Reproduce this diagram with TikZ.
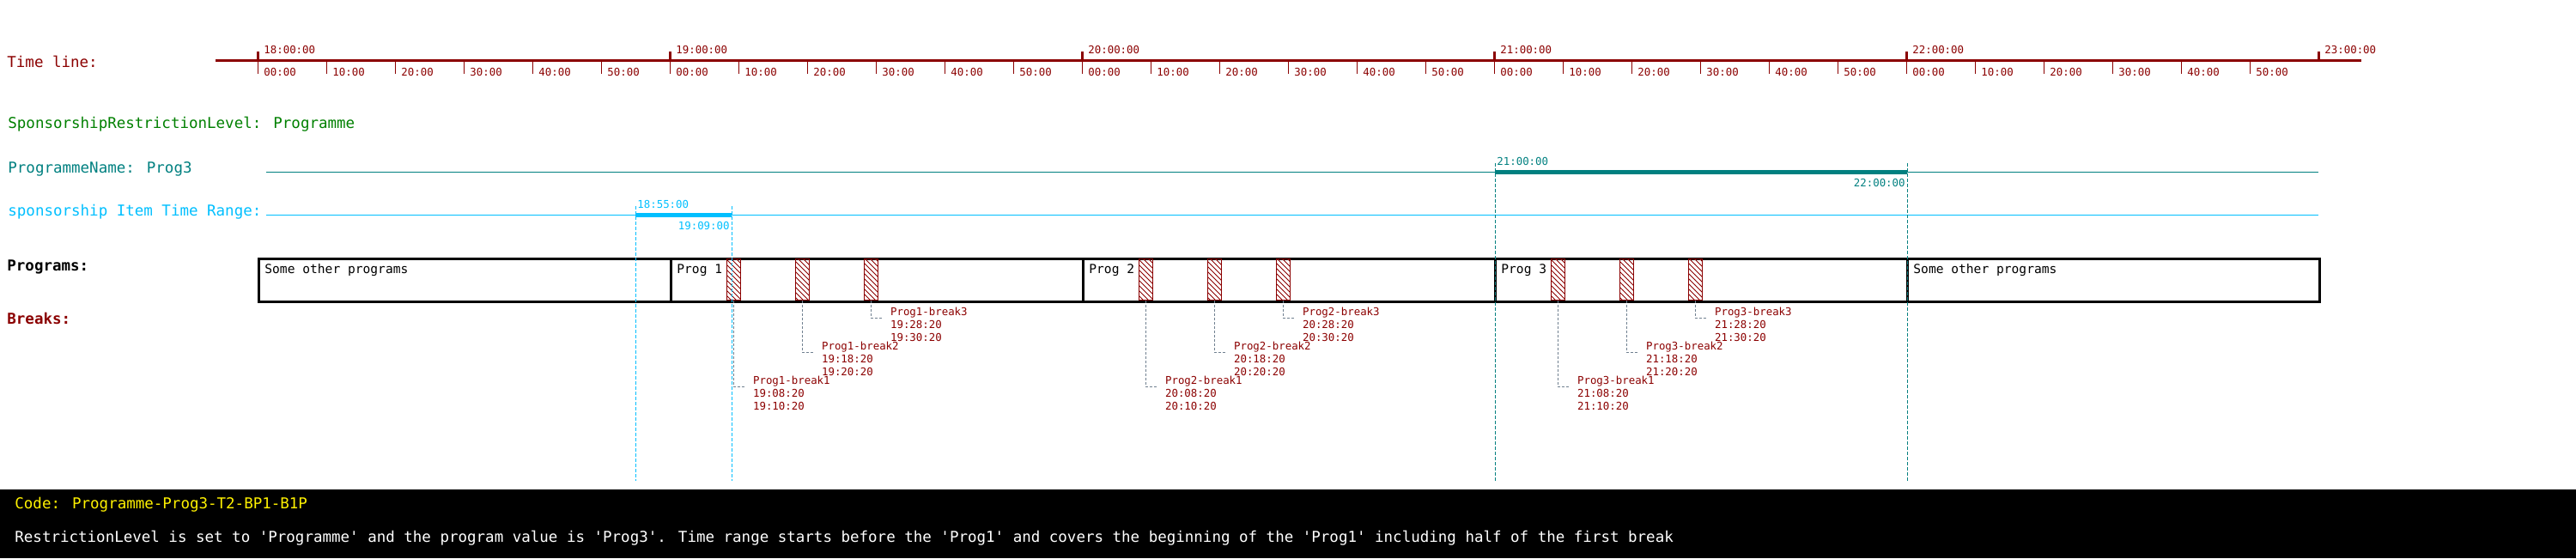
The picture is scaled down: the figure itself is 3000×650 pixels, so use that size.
\documentclass[tikz,border=0pt]{standalone}
\usepackage{fontspec}
\usetikzlibrary{patterns}
\newfontfamily\monofont{DejaVu Sans Mono}
\definecolor{tlred}{HTML}{8B0000}
\definecolor{lvlgreen}{HTML}{008000}
\definecolor{pnteal}{HTML}{008080}
\definecolor{rngblue}{HTML}{00BFFF}
\definecolor{callgray}{HTML}{708090}
\tikzset{
  txt/.style={font=\monofont\fontsize{8.75}{10.5}\selectfont, anchor=west, inner sep=0pt},
  headtxt/.style={txt, font=\monofont\bfseries\fontsize{8.75}{10.5}\selectfont},
  smalltxt/.style={font=\monofont\fontsize{6.2}{7.5}\selectfont, inner sep=0pt},
  boxtxt/.style={font=\monofont\fontsize{7.3}{9}\selectfont, anchor=west, inner sep=0pt},
  progbox/.style={draw, line width=1.5pt, minimum width=240pt, minimum height=25pt, anchor=north west, inner sep=0pt},
  brk/.style={draw=tlred, line width=0.5pt, pattern=north west lines, pattern color=tlred,
    minimum width=8pt, minimum height=24pt, inner sep=0pt},
  callout/.style={callgray, line width=0.5pt, dash pattern=on 1.5pt off 1pt},
  guide/.style={line width=0.5pt, dash pattern=on 2pt off 1pt},
  brklbl/.style={smalltxt, text=tlred, align=left, anchor=north west},
}
\begin{document}
\begin{tikzpicture}[x=0.5pt, y=-0.5pt]
  \useasboundingbox (0,0) rectangle (3000,650);
  \node[txt, text=tlred] (tl) at (8,72) {Time line:};
  \draw[tlred, line width=1.5pt] (251,70.5) -- (2750,70.5);
  \foreach \h [count=\i from 0] in {18,...,22} {
    \draw[tlred, line width=1.5pt] ({300+480*\i},60) -- ({300+480*\i},71);
    \node[smalltxt, text=tlred, anchor=west] (hr\h) at ({307+480*\i},57.5) {\h:00:00};
    \foreach \m in {0,...,5} {
      \draw[tlred, line width=0.5pt] ({300+480*\i+80*\m},71) -- ({300+480*\i+80*\m},86);
      \node[smalltxt, text=tlred, anchor=west] (mn\h\m) at ({307+480*\i+80*\m},83.5) {\m0:00};
    }
  }
  \draw[tlred, line width=1.5pt] (2700,60) -- (2700,71);
  \node[smalltxt, text=tlred, anchor=west] (hr23) at (2707,57.5) {23:00:00};

  \node[txt, text=lvlgreen] (lvl) at (9,145) {SponsorshipRestrictionLevel: Programme};

  \node[txt, text=pnteal] (pn) at (9,197) {ProgrammeName: Prog3};
  \draw[pnteal, line width=0.6pt] (310,200.5) -- (2700,200.5);
  \draw[pnteal, line width=2.5pt] (1741,200.5) -- (2221,200.5);
  \node[smalltxt, text=pnteal, anchor=west] (pnstart) at (1743,188) {21:00:00};
  \node[smalltxt, text=pnteal, anchor=east] (pnend) at (2219,213) {22:00:00};

  \node[txt, text=rngblue] (rng) at (9,247) {sponsorship Item Time Range:};
  \draw[rngblue, line width=0.6pt] (310,250.5) -- (2700,250.5);
  \draw[rngblue, line width=2.5pt] (740,250.5) -- (852,250.5);
  \node[smalltxt, text=rngblue, anchor=west] (rngstart) at (742,238) {18:55:00};
  \node[smalltxt, text=rngblue, anchor=east] (rngend) at (850,263) {19:09:00};

  \node[headtxt] (progs) at (8,311) {Programs:};
  \node[headtxt, text=tlred] (brks) at (8,371) {Breaks:};

  \foreach \txt [count=\i from 0] in {Some other programs, Prog 1, Prog 2, Prog 3, Some other programs} {
    \node[progbox] (p\i) at ({300+480*\i},300) {};
    \node[boxtxt] (pt\i) at ({308+480*\i},315) {\txt};
  }

  \foreach \p in {1,2,3} {
    \foreach \j [evaluate=\j as \jm using int(\j-1), evaluate=\p as \hh using int(18+\p)] in {1,2,3} {
      \pgfmathsetmacro\bx{780+480*(\p-1)+74.67+80*(\j-1)}
      \pgfmathsetmacro\by{450.5-40*(\j-1)}
      \node[brk] (b\p\j) at (\bx,325) {};
      \coordinate (c\p\j) at (\bx+14,\by);
      \draw[callout] (b\p\j.south) |- (c\p\j);
      \node[brklbl] (l\p\j) at (\bx+22,\by-13) {Prog\p-break\j\\\hh:\jm8:20\\\hh:\j0:20};
    }
  }

  \draw[guide, rngblue] (740,240) -- (740,560);
  \draw[guide, rngblue] (852,240) -- (852,560);
  \draw[guide, pnteal] (1741,190) -- (1741,560);
  \draw[guide, pnteal] (2221,190) -- (2221,560);

  \fill[black] (0,570) rectangle (3000,650);
  \node[txt, text=yellow] (code) at (17,588) {Code: Programme-Prog3-T2-BP1-B1P};
  \node[txt, text=white] (desc) at (17,627) {RestrictionLevel is set to 'Programme' and the program value is 'Prog3'. Time range starts before the 'Prog1' and covers the beginning of the 'Prog1' including half of the first break};
\end{tikzpicture}
\end{document}
